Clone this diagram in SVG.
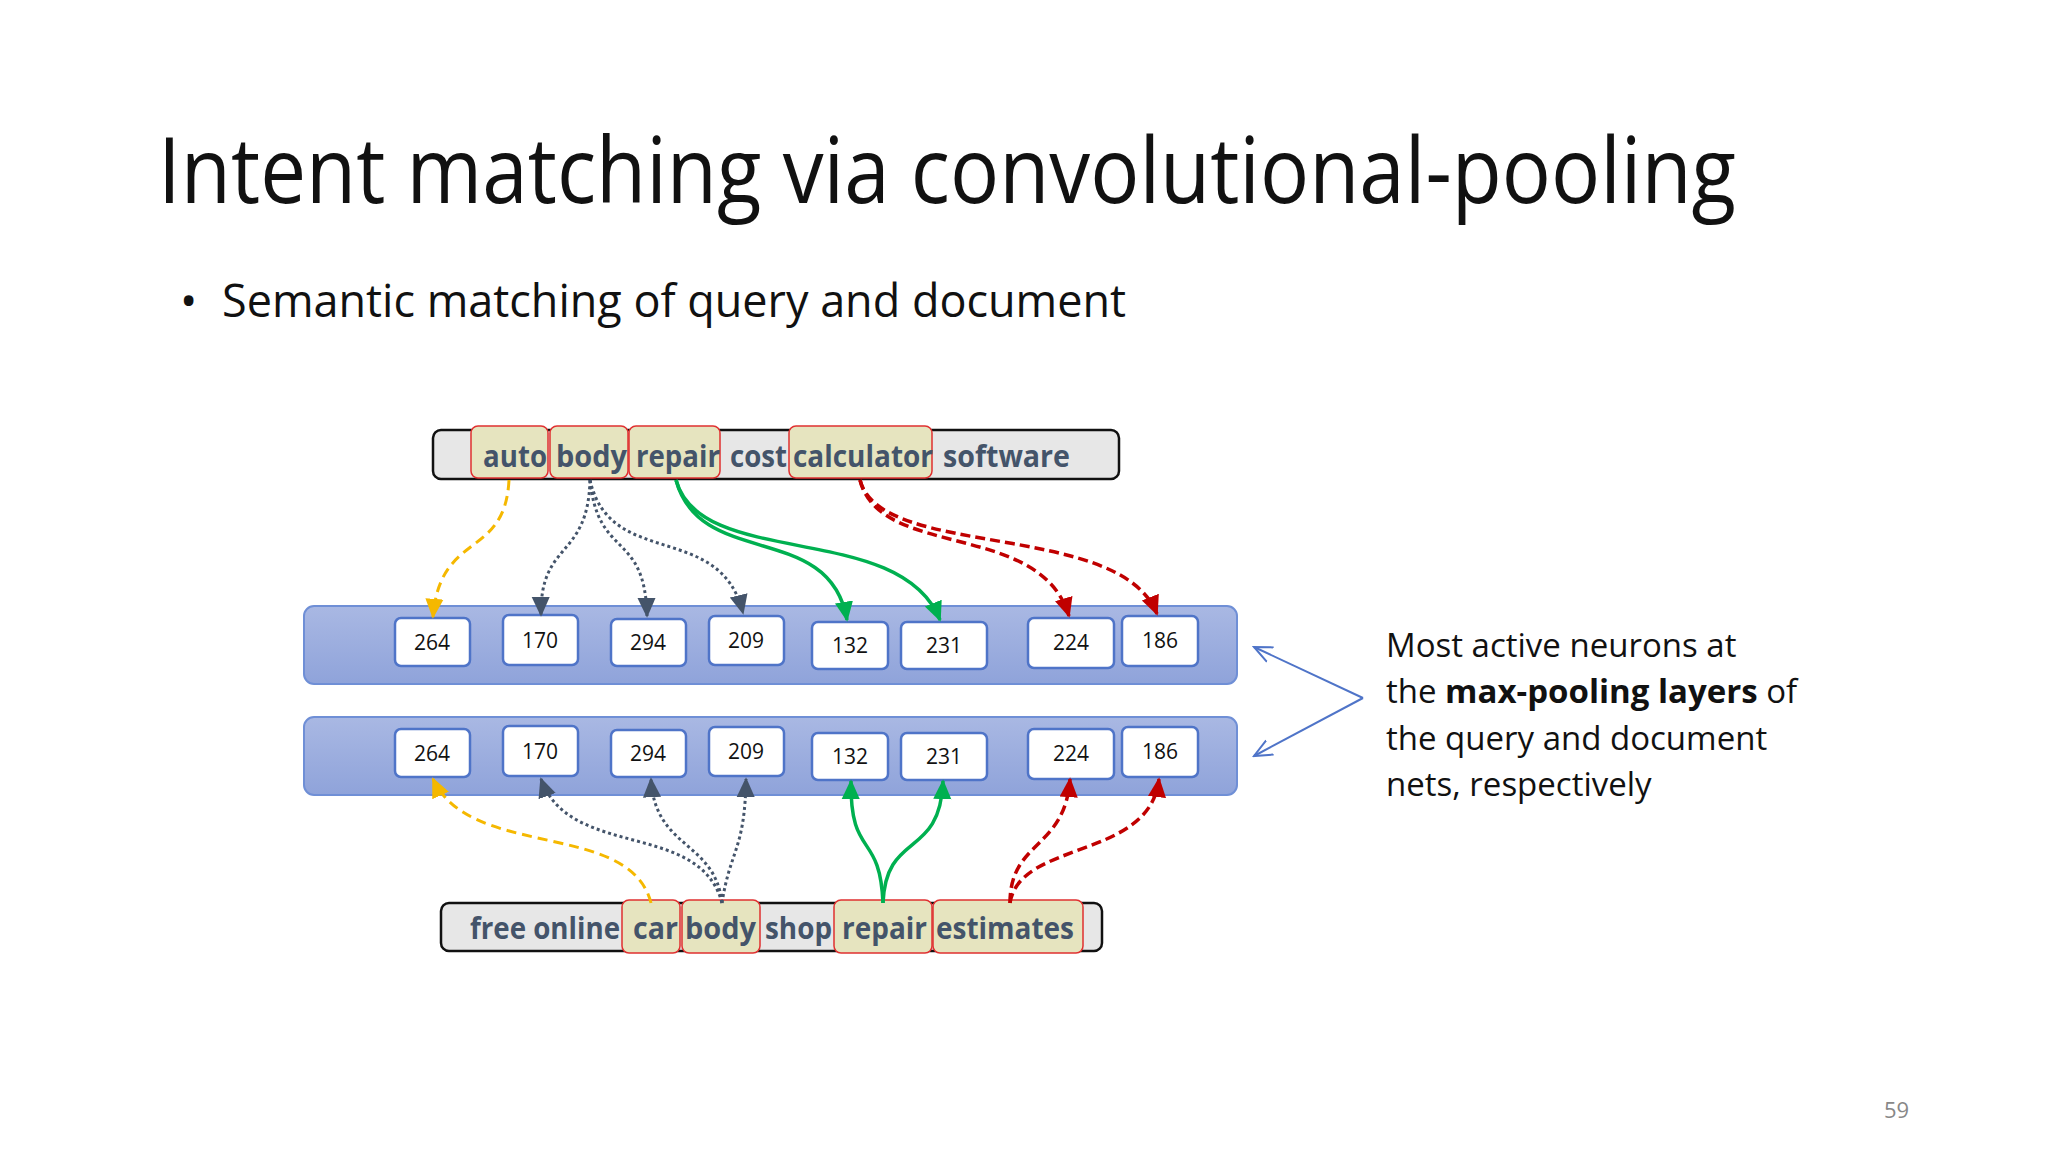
<svg xmlns="http://www.w3.org/2000/svg" width="2048" height="1152" viewBox="0 0 2048 1152">
<style>
text{font-family:"Open Sans","Noto Sans",sans-serif}
.t{font-size:92px;fill:#111}
.b{font-size:46px;fill:#111}
.w{font-size:31px;font-weight:bold;fill:#44546a}
.n{font-size:21px;fill:#111;text-anchor:middle}
.s{font-size:33px;fill:#111}
.hl{fill:#e6e4bf;stroke:#e03030;stroke-width:1.5}
.bar{fill:#e7e7e7;stroke:#111;stroke-width:2.5}
.band{fill:url(#bg);stroke:#6f8fd6;stroke-width:2}
.box{fill:#fff;stroke:#4f74c8;stroke-width:2.5}
.y{fill:none;stroke:#f5b800;stroke-width:3;stroke-dasharray:10 6;marker-end:url(#myy)}
.g{fill:none;stroke:#44546a;stroke-width:3;stroke-dasharray:3 3;marker-end:url(#mg)}
.gr{fill:none;stroke:#00b050;stroke-width:3.5;marker-end:url(#mgr)}
.r{fill:none;stroke:#c00000;stroke-width:3.5;stroke-dasharray:10 5;marker-end:url(#mr)}
</style>
<defs>
<linearGradient id="bg" x1="0" y1="0" x2="0" y2="1"><stop offset="0" stop-color="#a9b8e3"/><stop offset="1" stop-color="#8fa3da"/></linearGradient>
<marker id="mg" markerUnits="userSpaceOnUse" markerWidth="20" markerHeight="22" refX="20" refY="10" orient="auto" viewBox="0 0 22 20"><path d="M0,0 L22,10 L0,20Z" fill="#44546a"/></marker>
<marker id="mgr" markerUnits="userSpaceOnUse" markerWidth="20" markerHeight="22" refX="20" refY="10" orient="auto" viewBox="0 0 22 20"><path d="M0,0 L22,10 L0,20Z" fill="#00b050"/></marker>
<marker id="mr" markerUnits="userSpaceOnUse" markerWidth="20" markerHeight="22" refX="20" refY="10" orient="auto" viewBox="0 0 22 20"><path d="M0,0 L22,10 L0,20Z" fill="#c00000"/></marker>
<marker id="myy" markerUnits="userSpaceOnUse" markerWidth="20" markerHeight="22" refX="20" refY="10" orient="auto" viewBox="0 0 22 20"><path d="M0,0 L22,10 L0,20Z" fill="#f5b800"/></marker>
<marker id="mo" markerUnits="userSpaceOnUse" markerWidth="20" markerHeight="20" refX="18" refY="10" orient="auto" viewBox="0 0 20 20"><path d="M0,2 L18,10 L0,18" fill="none" stroke="#4f74c8" stroke-width="2"/></marker>
</defs>
<rect width="2048" height="1152" fill="#fff"/>
<text class="t" x="158" y="203" textLength="1578" lengthAdjust="spacingAndGlyphs">Intent matching via convolutional-pooling</text>
<text class="b" x="180" y="317">•</text>
<text class="b" x="222" y="317" textLength="904" lengthAdjust="spacingAndGlyphs">Semantic matching of query and document</text>

<g id="query">
<rect class="bar" x="433" y="430" width="686" height="49" rx="8"/>
<rect class="hl" x="471" y="426" width="77" height="52" rx="7"/>
<rect class="hl" x="550" y="426" width="78" height="52" rx="7"/>
<rect class="hl" x="629" y="426" width="91" height="52" rx="7"/>
<rect class="hl" x="789" y="426" width="143" height="52" rx="7"/>
<text class="w" x="483" y="467" textLength="64" lengthAdjust="spacingAndGlyphs">auto</text>
<text class="w" x="556" y="467" textLength="71" lengthAdjust="spacingAndGlyphs">body</text>
<text class="w" x="636" y="467" textLength="84" lengthAdjust="spacingAndGlyphs">repair</text>
<text class="w" x="730" y="467" textLength="57" lengthAdjust="spacingAndGlyphs">cost</text>
<text class="w" x="793" y="467" textLength="140" lengthAdjust="spacingAndGlyphs">calculator</text>
<text class="w" x="943" y="467" textLength="127" lengthAdjust="spacingAndGlyphs">software</text>
</g>

<g id="doc">
<rect class="bar" x="441" y="903" width="661" height="48" rx="8"/>
<rect class="hl" x="622" y="900" width="58" height="53" rx="7"/>
<rect class="hl" x="682" y="900" width="78" height="53" rx="7"/>
<rect class="hl" x="834" y="900" width="98" height="53" rx="7"/>
<rect class="hl" x="933" y="900" width="150" height="53" rx="7"/>
<text class="w" x="470" y="939" textLength="150" lengthAdjust="spacingAndGlyphs">free online</text>
<text class="w" x="633" y="939" textLength="45" lengthAdjust="spacingAndGlyphs">car</text>
<text class="w" x="685" y="939" textLength="71" lengthAdjust="spacingAndGlyphs">body</text>
<text class="w" x="765" y="939" textLength="67" lengthAdjust="spacingAndGlyphs">shop</text>
<text class="w" x="842" y="939" textLength="85" lengthAdjust="spacingAndGlyphs">repair</text>
<text class="w" x="936" y="939" textLength="138" lengthAdjust="spacingAndGlyphs">estimates</text>
</g>

<g id="layer-query">
<rect class="band" x="304" y="606" width="933" height="78" rx="10"/>
<rect class="box" x="395" y="618" width="75" height="48" rx="6"/><text class="n" x="432" y="650">264</text>
<rect class="box" x="503" y="615" width="75" height="50" rx="6"/><text class="n" x="540" y="648">170</text>
<rect class="box" x="611" y="619" width="75" height="47" rx="6"/><text class="n" x="648" y="650">294</text>
<rect class="box" x="709" y="616" width="75" height="49" rx="6"/><text class="n" x="746" y="648">209</text>
<rect class="box" x="812" y="622" width="76" height="47" rx="6"/><text class="n" x="850" y="653">132</text>
<rect class="box" x="901" y="622" width="86" height="47" rx="6"/><text class="n" x="944" y="653">231</text>
<rect class="box" x="1028" y="618" width="86" height="50" rx="6"/><text class="n" x="1071" y="650">224</text>
<rect class="box" x="1122" y="616" width="76" height="50" rx="6"/><text class="n" x="1160" y="648">186</text>
</g>

<g id="layer-doc">
<rect class="band" x="304" y="717" width="933" height="78" rx="10"/>
<rect class="box" x="395" y="729" width="75" height="48" rx="6"/><text class="n" x="432" y="761">264</text>
<rect class="box" x="503" y="726" width="75" height="50" rx="6"/><text class="n" x="540" y="759">170</text>
<rect class="box" x="611" y="730" width="75" height="47" rx="6"/><text class="n" x="648" y="761">294</text>
<rect class="box" x="709" y="727" width="75" height="49" rx="6"/><text class="n" x="746" y="759">209</text>
<rect class="box" x="812" y="733" width="76" height="47" rx="6"/><text class="n" x="850" y="764">132</text>
<rect class="box" x="901" y="733" width="86" height="47" rx="6"/><text class="n" x="944" y="764">231</text>
<rect class="box" x="1028" y="729" width="86" height="50" rx="6"/><text class="n" x="1071" y="761">224</text>
<rect class="box" x="1122" y="727" width="76" height="50" rx="6"/><text class="n" x="1160" y="759">186</text>
</g>

<g id="connectors">
<path class="y" d="M509,480 C505,560 440,530 433,617"/>
<path class="g" d="M590,480 C588,560 540,540 541,615"/>
<path class="g" d="M590,480 C598,560 645,530 647,616"/>
<path class="g" d="M590,480 C610,570 720,520 743,613"/>
<path class="gr" d="M676,480 C700,570 830,520 847,620"/>
<path class="gr" d="M676,480 C700,570 900,520 940,620"/>
<path class="r" d="M860,480 C880,560 1040,520 1069,616"/>
<path class="r" d="M860,480 C880,560 1120,520 1157,614"/>
<path class="y" d="M651,903 C630,820 470,860 433,779"/>
<path class="g" d="M722,903 C700,820 570,860 541,779"/>
<path class="g" d="M722,903 C715,840 655,850 651,779"/>
<path class="g" d="M722,903 C730,850 745,850 746,779"/>
<path class="gr" d="M883,903 C880,830 850,860 851,781"/>
<path class="gr" d="M883,903 C886,830 940,860 943,781"/>
<path class="r" d="M1010,903 C1010,840 1065,850 1070,779"/>
<path class="r" d="M1010,903 C1020,840 1150,860 1159,779"/>
<path d="M1363,698 L1254,647" fill="none" stroke="#4f74c8" stroke-width="2" marker-end="url(#mo)"/>
<path d="M1363,698 L1254,756" fill="none" stroke="#4f74c8" stroke-width="2" marker-end="url(#mo)"/>
</g>

<g id="note">
<text class="s" x="1386" y="657">Most active neurons at</text>
<text class="s" x="1386" y="703">the <tspan font-weight="bold">max-pooling layers</tspan> of</text>
<text class="s" x="1386" y="750">the query and document</text>
<text class="s" x="1386" y="796">nets, respectively</text>
</g>
<text x="1884" y="1118" font-size="22" fill="#888">59</text>
</svg>
